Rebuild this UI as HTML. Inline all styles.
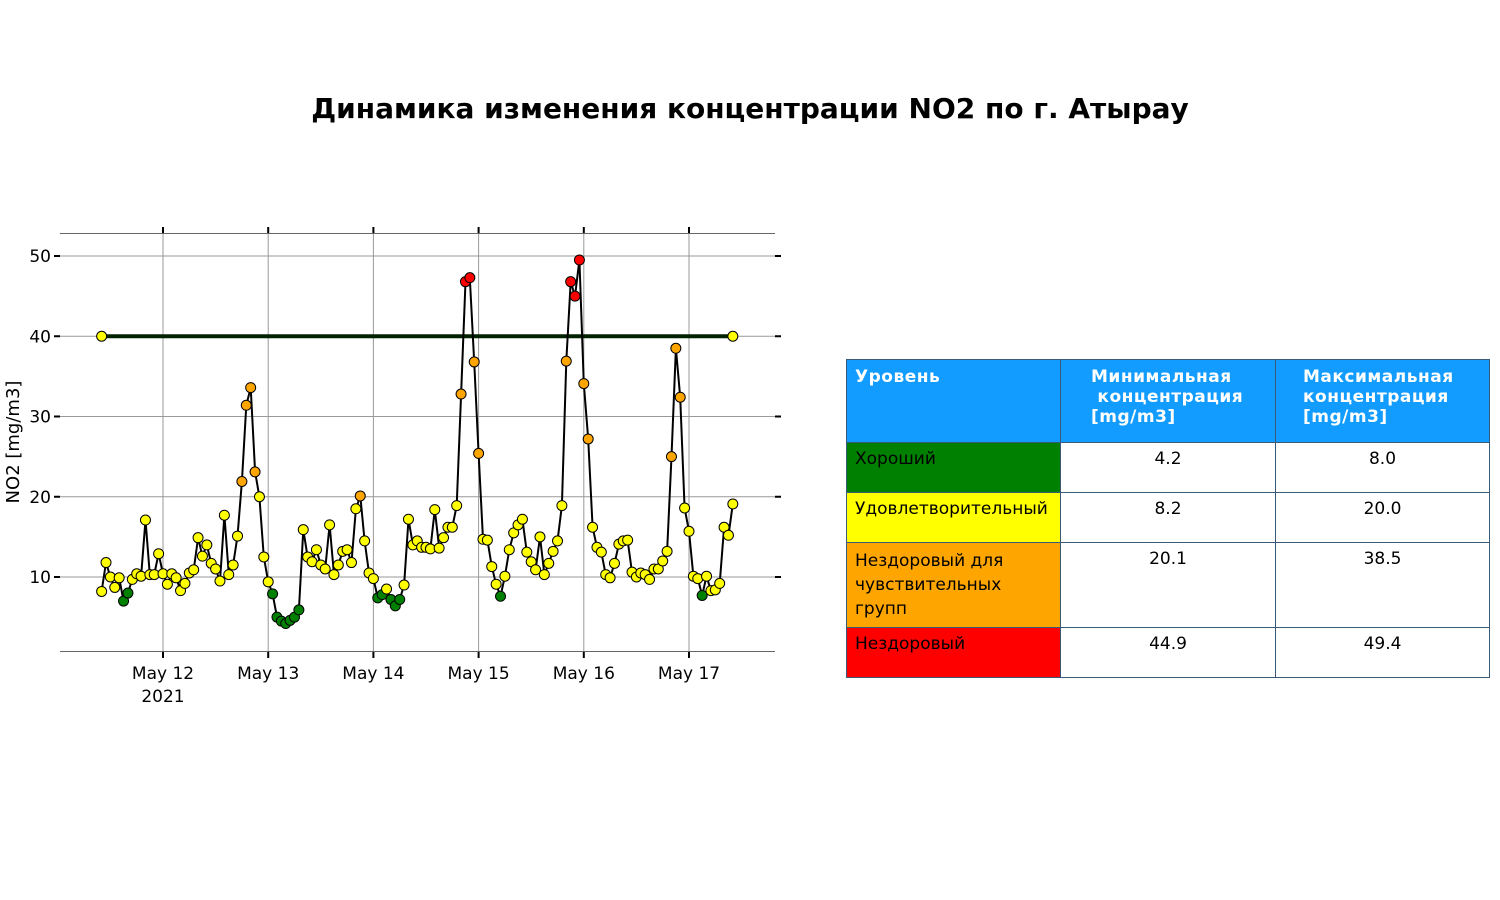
<!DOCTYPE html>
<html><head><meta charset="utf-8">
<style>
body{margin:0;background:#fff;font-family:"Liberation Sans","DejaVu Sans",sans-serif;}
#wrap{position:relative;width:1500px;height:900px;overflow:hidden;}
#title{position:absolute;left:0;width:1500px;top:92px;text-align:center;font-family:"DejaVu Sans",sans-serif;font-weight:bold;font-size:28px;}
table{position:absolute;left:846px;top:359px;border-collapse:collapse;font-family:"DejaVu Sans",sans-serif;font-size:17px;}
td{border:1px solid #3a5a7a;vertical-align:top;padding:6px 8px;box-sizing:border-box;}
th{background:#139cff;color:#fff;font-weight:bold;text-align:left;vertical-align:top;padding:7px 8px;border:1px solid #3a5a7a;box-sizing:border-box;letter-spacing:0.5px}
</style></head><body>
<div id="wrap">
<div id="title">Динамика изменения концентрации NO2 по г. Атырау</div>
<svg id="chart" width="800" height="720" style="position:absolute;left:0;top:0"></svg>
<table>
<tr style="height:83px"><th style="width:214px">Уровень</th><th style="width:215px;padding-left:30px">Минимальная<br>&nbsp;концентрация<br>[mg/m3]</th><th style="width:214px;padding-left:27px">Максимальная<br>концентрация<br>[mg/m3]</th></tr>
<tr style="height:50px"><td style="background:#008000">Хороший</td><td style="text-align:center">4.2</td><td style="text-align:center">8.0</td></tr>
<tr style="height:50px"><td style="background:#ffff00;padding-right:0;white-space:nowrap">Удовлетворительный</td><td style="text-align:center">8.2</td><td style="text-align:center">20.0</td></tr>
<tr style="height:84px"><td style="background:#ffa500;line-height:24px;padding-top:6px">Нездоровый для чувствительных групп</td><td style="text-align:center">20.1</td><td style="text-align:center">38.5</td></tr>
<tr style="height:50px"><td style="background:#ff0000">Нездоровый</td><td style="text-align:center">44.9</td><td style="text-align:center">49.4</td></tr>
</table>
</div>
<script>
const values=[8.2,11.8,10.0,8.7,9.9,7.0,8.0,9.7,10.4,10.1,17.1,10.3,10.3,12.9,10.4,9.1,10.4,9.9,8.3,9.2,10.5,10.9,14.9,12.6,14.0,11.7,11.0,9.5,17.7,10.3,11.5,15.1,21.9,31.4,33.6,23.1,20.0,12.5,9.4,7.9,5.0,4.5,4.2,4.6,5.0,5.9,15.9,12.5,11.9,13.4,11.5,11.0,16.5,10.3,11.5,13.2,13.4,11.8,18.5,20.1,14.5,10.5,9.8,7.4,7.8,8.5,7.2,6.4,7.2,9.0,17.2,14.0,14.5,13.7,13.7,13.5,18.4,13.6,14.9,16.2,16.2,18.9,32.8,46.8,47.3,36.8,25.4,14.7,14.6,11.3,9.1,7.6,10.1,13.4,15.5,16.5,17.2,13.1,11.9,10.9,15.0,10.3,11.7,13.2,14.5,18.9,36.9,46.8,45.0,49.5,34.1,27.2,16.2,13.7,13.1,10.3,9.9,11.7,14.1,14.5,14.6,10.6,10.0,10.5,10.3,9.7,11.0,11.0,12.0,13.2,25.0,38.5,32.4,18.6,15.7,10.1,9.8,7.7,10.1,8.3,8.4,9.2,16.2,15.2,19.1];
const startHour=-14; // hours relative to May 12 00:00
const threshold=40;
const yTicks=[10,20,30,40,50];
const xTickLabels=["May 12","May 13","May 14","May 15","May 16","May 17"];
const svg=document.getElementById('chart');
const NS='http://www.w3.org/2000/svg';
const X=h=>163+h*(105.2/24);
const Y=v=>657.25-v*8.025;
function mk(t,a){const e=document.createElementNS(NS,t);for(const k in a)e.setAttribute(k,a[k]);svg.appendChild(e);return e;}
// grid
yTicks.forEach((v,i)=>{
 const g=mk('line',{x1:60,x2:775,y1:Y(v),y2:Y(v),stroke:'#999','stroke-width':1});
 
 
 mk('line',{x1:54,x2:60,y1:Y(v),y2:Y(v),stroke:'#000','stroke-width':2});
 mk('line',{x1:775,x2:781,y1:Y(v),y2:Y(v),stroke:'#000','stroke-width':2});
 const t=mk('text',{x:51,y:Y(v)+6,'text-anchor':'end','font-size':17,fill:'#000','font-family':'DejaVu Sans, sans-serif'});
 t.textContent=v;
 
 
});
xTickLabels.forEach((lab,i)=>{
 const x=X(i*24);
 const g=mk('line',{x1:x,x2:x,y1:233,y2:652,stroke:'#999','stroke-width':1});
 
 
 mk('line',{x1:x,x2:x,y1:227,y2:233,stroke:'#000','stroke-width':2});
 mk('line',{x1:x,x2:x,y1:652,y2:658,stroke:'#000','stroke-width':2});
 const t=mk('text',{x:x,y:679,'text-anchor':'middle','font-size':17,fill:'#000','font-family':'DejaVu Sans, sans-serif'});
 t.textContent=lab;
 
 
});
const yr=mk('text',{x:X(0),y:702,'text-anchor':'middle','font-size':17,'font-family':'DejaVu Sans, sans-serif'});yr.textContent='2021';


const ax1=mk('line',{x1:60,x2:775,y1:233.5,y2:233.5,stroke:'#666'});


const ax2=mk('line',{x1:60,x2:775,y1:651.5,y2:651.5,stroke:'#666'});


const yl=mk('text',{x:0,y:0,transform:'translate(19,442) rotate(-90)','text-anchor':'middle','font-size':18,'font-family':'DejaVu Sans, sans-serif'});yl.textContent='NO2 [mg/m3]';


// threshold
const x0=X(startHour),x1=X(startHour+values.length-1);
const th=mk('line',{x1:x0,x2:x1,y1:Y(threshold),y2:Y(threshold),stroke:'#002200','stroke-width':4});


// series line
const pts=values.map((v,i)=>X(startHour+i).toFixed(1)+','+Y(v).toFixed(1)).join(' ');
const pl=mk('polyline',{points:pts,fill:'none',stroke:'#000','stroke-width':2});


function col(v){return v<=8.0?'#008000':v<=20.0?'#ffff00':v<=38.5?'#ffa500':'#ff0000';}
values.forEach((v,i)=>{
 const c=mk('circle',{cx:X(startHour+i),cy:Y(v),r:5,fill:col(v),stroke:'#000','stroke-width':1});
 
 
});
[x0,x1].forEach(x=>{
 const c=mk('circle',{cx:x,cy:Y(threshold),r:5,fill:'#ffff00',stroke:'#000','stroke-width':1});
 
 
});
</script>
</body></html>
